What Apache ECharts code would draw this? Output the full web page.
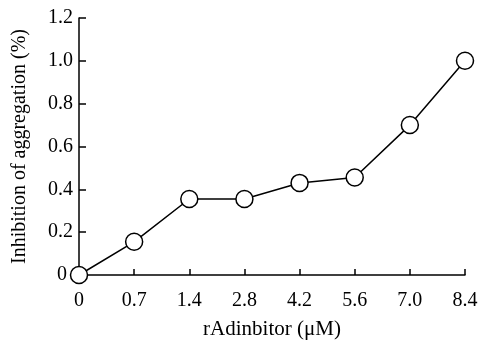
<!DOCTYPE html>
<html>
<head>
<meta charset="utf-8">
<script src="https://cdn.jsdelivr.net/npm/echarts@6/dist/echarts.min.js"></script>
<style>html,body{margin:0;padding:0;background:#fff;}#chart{width:482px;height:345px;}</style>
</head>
<body>
<div id="chart"></div>
<script>
const categories = ['0', '0.7', '1.4', '2.8', '4.2', '5.6', '7.0', '8.4'];
const inhibition = [0, 0.155, 0.355, 0.355, 0.43, 0.455, 0.70, 1.0];
const yTickLabels = ['0', '0.2', '0.4', '0.6', '0.8', '1.0', '1.2'];
const xAxisTitle = 'rAdinbitor (μM)';
const yAxisTitle = 'Inhibition of aggregation (%)';

const FONT = 'Liberation Serif';
const chart = echarts.init(document.getElementById('chart'), null, {renderer: 'canvas'});
chart.setOption({
  animation: false,
  backgroundColor: '#fff',
  grid: {left: 79, right: 17, top: 18, bottom: 67, containLabel: false},
  xAxis: {
    type: 'category',
    data: categories,
    boundaryGap: false,
    name: xAxisTitle,
    nameLocation: 'middle',
    nameGap: 44,
    nameTextStyle: {fontFamily: FONT, fontSize: 21, color: '#000'},
    axisLine: {lineStyle: {color: '#000', width: 1.5}},
    axisTick: {inside: true, length: 6, lineStyle: {color: '#000', width: 1.5}},
    axisLabel: {fontFamily: FONT, fontSize: 20, color: '#000', margin: 16},
    splitLine: {show: false}
  },
  yAxis: {
    type: 'value',
    min: 0,
    max: 1.2,
    interval: 0.2,
    name: yAxisTitle,
    nameLocation: 'middle',
    nameGap: 49,
    nameTextStyle: {fontFamily: FONT, fontSize: 20, color: '#000'},
    axisLine: {show: true, lineStyle: {color: '#000', width: 1.5}},
    axisTick: {show: true, inside: true, length: 7, lineStyle: {color: '#000', width: 1.5}},
    axisLabel: {
      fontFamily: FONT, fontSize: 20, color: '#000', margin: 6,
      formatter: function (v) {
        const i = Math.round(v / 0.2);
        return i === 0 ? '{z|' + yTickLabels[0] + '}' : yTickLabels[i];
      },
      rich: {z: {fontFamily: FONT, fontSize: 20, color: '#000', padding: [0, 6, 0, 0]}}
    },
    splitLine: {show: false}
  },
  series: [{
    type: 'line',
    data: inhibition,
    symbol: 'circle',
    symbolSize: 17,
    showAllSymbol: true,
    lineStyle: {color: '#000', width: 1.5},
    itemStyle: {color: '#fff', borderColor: '#000', borderWidth: 1.5},
    z: 5
  }]
});
</script>
</body>
</html>
